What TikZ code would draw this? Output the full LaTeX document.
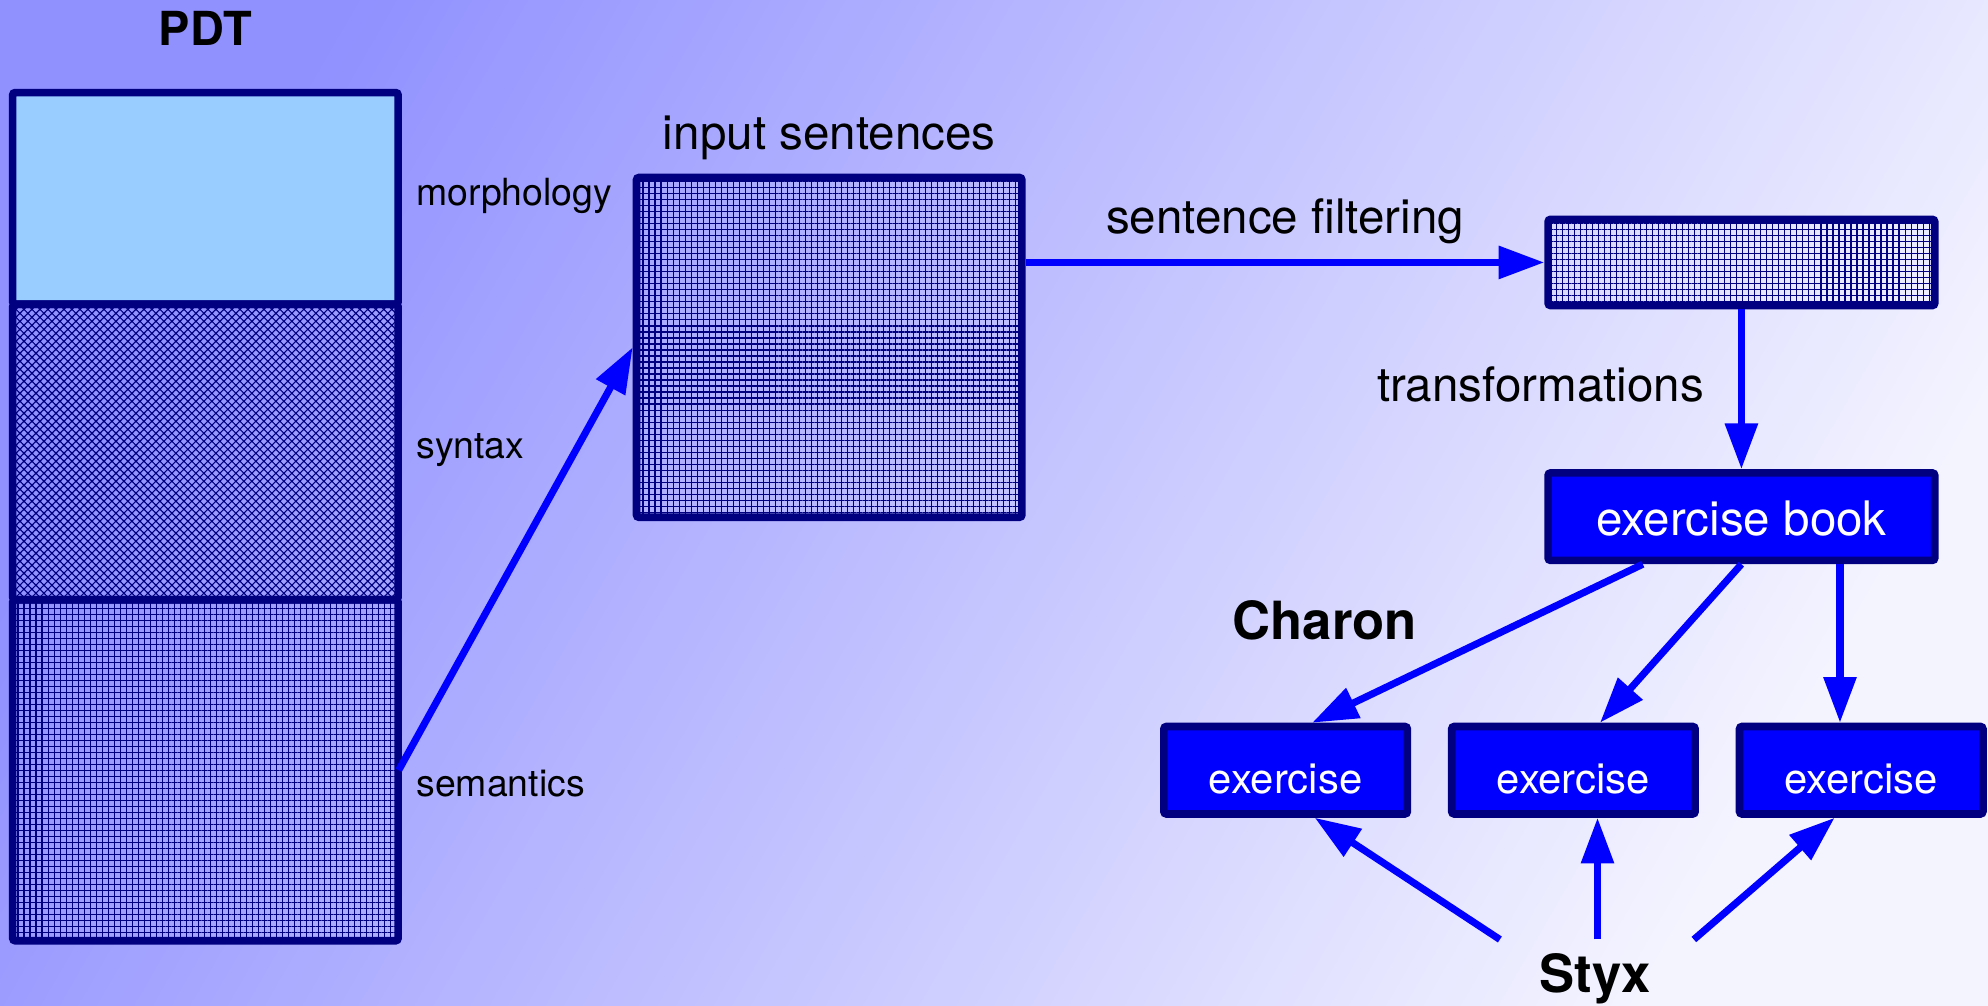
\documentclass[tikz,border=0pt]{standalone}
\usepackage{fontspec}
\setmainfont{TeX Gyre Heros}
\usetikzlibrary{arrows.meta,patterns.meta,calc}
\definecolor{navy}{HTML}{000080}
\definecolor{bgA}{HTML}{9090FF}
\definecolor{bgB}{HTML}{F4F4FF}
\definecolor{morphfill}{HTML}{99CCFF}
\definecolor{arrowblue}{HTML}{0000FF}
\begin{document}
\begin{tikzpicture}[x=0.5pt,y=-0.5pt,
  box/.style={draw=navy, line width=3pt, rounded corners=1pt, inner sep=0pt},
  gridbox/.style={box, pattern={Hatch[angle=0,distance=2.37pt,line width=0.45pt]}, pattern color=navy},
  crossbox/.style={box, pattern={Hatch[angle=45,distance=2.23pt,line width=0.45pt]}, pattern color=navy},
  exbox/.style={box, fill=arrowblue, text=white, minimum width=96pt, minimum height=34.5pt, text height=18pt, text depth=0pt, font=\fontsize{16.5}{18}\selectfont},
  flow/.style={draw=arrowblue, line width=2.8pt, -{Triangle[length=18pt,width=12.5pt]}},
  lab/.style={font=\fontsize{18.75}{20}\selectfont, inner sep=0pt, anchor=base},
  sidelab/.style={font=\fontsize{14.75}{16}\selectfont, anchor=base west, inner sep=0pt},
  boldlab/.style={font=\bfseries\fontsize{20.75}{22}\selectfont, inner sep=0pt, anchor=base}]

\shade[top color=bgA, bottom color=bgB, shading angle=60] (0,0) rectangle (1568,792.7);
\useasboundingbox (0,0) rectangle (1568,792.7);

% PDT column
\node[boldlab, font=\bfseries\fontsize{18.5}{20}\selectfont] (pdt) at (162,35.5) {PDT};
\node[box, fill=morphfill, minimum width=152pt, minimum height=83.5pt] (morph) at (162,156.5) {};
\node[crossbox, minimum width=152pt, minimum height=116.5pt] (syn) at (162,356.5) {};
\node[gridbox, minimum width=152pt, minimum height=134.5pt] (sem) at (162,607.5) {};
\node[sidelab] (lmorph) at (328,161.7) {morphology};
\node[sidelab] (lsyn) at (328,362) {syntax};
\node[sidelab] (lsem) at (328,628.6) {semantics};

% input sentences
\node[lab] (linput) at (654,118) {input sentences};
\node[gridbox, minimum width=152pt, minimum height=134pt] (input) at (654,274) {};

% filtered
\node[lab] (lfilter) at (1013.5,184) {sentence filtering};
\node[gridbox, minimum width=152.5pt, minimum height=34pt] (small) at (1373.5,207) {};
\node[lab] (ltrans) at (1215,317) {transformations};

% exercise book
\node[box, fill=arrowblue, text=white, minimum width=152.5pt, minimum height=34.5pt, text height=15pt, text depth=0pt, font=\fontsize{18.75}{20}\selectfont] (book) at (1373.5,407.5) {exercise book};

\node[boldlab] (charon) at (1045,504) {Charon};

\node[exbox] (ex1) at (1014,607.5) {exercise};
\node[exbox] (ex2) at (1241,607.5) {exercise};
\node[exbox] (ex3) at (1468,607.5) {exercise};

\node[boldlab] (styx) at (1258,783) {Styx};
\coordinate (s1) at (1183,741);
\coordinate (s2) at (1260,741);
\coordinate (s3) at (1336,741);

% connectors
\draw[flow] (sem.east) -- (input.west);
\draw[flow] (input.east |- small.west) -- (small.west);
\draw[flow] (small.south) -- (book.north);
\coordinate (b1) at ($(book.south west)!0.25!(book.south east)$);
\coordinate (b3) at ($(book.south west)!0.75!(book.south east)$);
\draw[flow] (b1) -- ([xshift=10.5pt]ex1.north);
\draw[flow] (book.south) -- ([xshift=10.5pt]ex2.north);
\draw[flow] (b3) -- (b3 |- ex3.north);
\draw[flow] (s1) -- ([xshift=11.5pt]ex1.south);
\draw[flow] (s2) -- (s2 |- ex2.south);
\draw[flow] (s3) -- ([xshift=-10.5pt]ex3.south);
\end{tikzpicture}
\end{document}
